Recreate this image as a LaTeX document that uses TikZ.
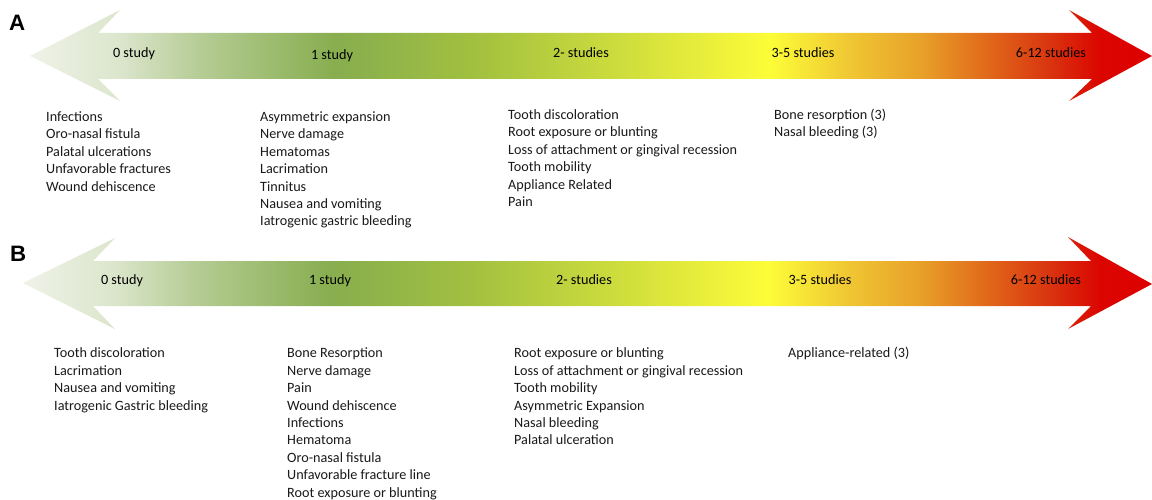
\documentclass[tikz,border=0pt]{standalone}
\usepackage{fontspec}
\setmainfont{Carlito}
\newfontfamily\labfont{Liberation Sans}
\pgfdeclarehorizontalshading{heat}{100bp}{
  rgb(0bp)=(0.94,0.95,0.91);
  rgb(25bp)=(0.94,0.95,0.91);
  rgb(29bp)=(0.86,0.90,0.80);
  rgb(32.6bp)=(0.71,0.80,0.58);
  rgb(38.6bp)=(0.53,0.68,0.31);
  rgb(44.6bp)=(0.63,0.75,0.25);
  rgb(50.4bp)=(0.78,0.85,0.24);
  rgb(54.9bp)=(0.91,0.93,0.23);
  rgb(58bp)=(0.99,0.99,0.22);
  rgb(61.5bp)=(0.94,0.78,0.20);
  rgb(64.7bp)=(0.91,0.63,0.16);
  rgb(67.8bp)=(0.88,0.40,0.10);
  rgb(70.5bp)=(0.85,0.20,0.06);
  rgb(72.7bp)=(0.86,0.02,0.0);
  rgb(75bp)=(0.87,0.0,0.0);
  rgb(100bp)=(0.87,0.0,0.0)}
\begin{document}
\begin{tikzpicture}[x=1pt,y=-1pt,
  item/.style={anchor=base west,inner sep=0pt,font=\fontsize{14.2}{17.4}\selectfont,text=black!90},
  head/.style={anchor=base,inner sep=0pt,font=\fontsize{14.2}{17.4}\selectfont,text=black},
  panel/.style={anchor=base west,inner sep=0pt,font=\labfont\bfseries\fontsize{22.3}{26}\selectfont}]
\useasboundingbox (0,0) rectangle (1152,500);
% arrows
\shade[shading=heat] (30,56) -- (120,10) -- (98,33) -- (1092,33) -- (1069,10) -- (1152,56)
  -- (1069,101) -- (1092,79) -- (98,79) -- (120,101) -- cycle;
\shade[shading=heat] (23,283) -- (115,238) -- (93,261) -- (1091,261) -- (1068,237) -- (1152,284)
  -- (1068,329) -- (1091,306) -- (93,306) -- (115,329) -- cycle;
% panel labels
\node[panel] (labA) at (9,31) {A};
\node[panel] (labB) at (10,261) {B};
% headings A
\node[head] (hA0) at (134,57.5) {0 study};
\node[head] (hA1) at (332,59.5) {1 study};
\node[head] (hA2) at (581,57.5) {2- studies};
\node[head] (hA3) at (803,57.5) {3-5 studies};
\node[head] (hA4) at (1051,57.5) {6-12 studies};
% headings B
\node[head] (hB0) at (122,284.5) {0 study};
\node[head] (hB1) at (330,284.5) {1 study};
\node[head] (hB2) at (584,284.5) {2- studies};
\node[head] (hB3) at (820,284.5) {3-5 studies};
\node[head] (hB4) at (1046,284.5) {6-12 studies};
% lists A
\foreach [count=\i] \t in {Infections,Oro-nasal fistula,Palatal ulcerations,Unfavorable fractures,Wound dehiscence}
  \node[item] (a1-\i) at (46,{121.5+17.4*(\i-1)}) {\t};
\foreach [count=\i] \t in {Asymmetric expansion,Nerve damage,Hematomas,Lacrimation,Tinnitus,Nausea and vomiting,Iatrogenic gastric bleeding}
  \node[item] (a2-\i) at (260,{121.5+17.4*(\i-1)}) {\t};
\foreach [count=\i] \t in {Tooth discoloration,Root exposure or blunting,Loss of attachment or gingival recession,Tooth mobility,Appliance Related,Pain}
  \node[item] (a3-\i) at (508,{119.5+17.4*(\i-1)}) {\t};
\foreach [count=\i] \t in {Bone resorption (3),Nasal bleeding (3)}
  \node[item] (a4-\i) at (774,{119.5+17.4*(\i-1)}) {\t};
% lists B
\foreach [count=\i] \t in {Tooth discoloration,Lacrimation,Nausea and vomiting,Iatrogenic Gastric bleeding}
  \node[item] (b1-\i) at (54,{357.8+17.4*(\i-1)}) {\t};
\foreach [count=\i] \t in {Bone Resorption,Nerve damage,Pain,Wound dehiscence,Infections,Hematoma,Oro-nasal fistula,Unfavorable fracture line,Root exposure or blunting}
  \node[item] (b2-\i) at (287,{357.8+17.4*(\i-1)}) {\t};
\foreach [count=\i] \t in {Root exposure or blunting,Loss of attachment or gingival recession,Tooth mobility,Asymmetric Expansion,Nasal bleeding,Palatal ulceration}
  \node[item] (b3-\i) at (514,{357.8+17.4*(\i-1)}) {\t};
\foreach [count=\i] \t in {Appliance-related (3)}
  \node[item] (b4-\i) at (788,{357.8+17.4*(\i-1)}) {\t};
\end{tikzpicture}
\end{document}
